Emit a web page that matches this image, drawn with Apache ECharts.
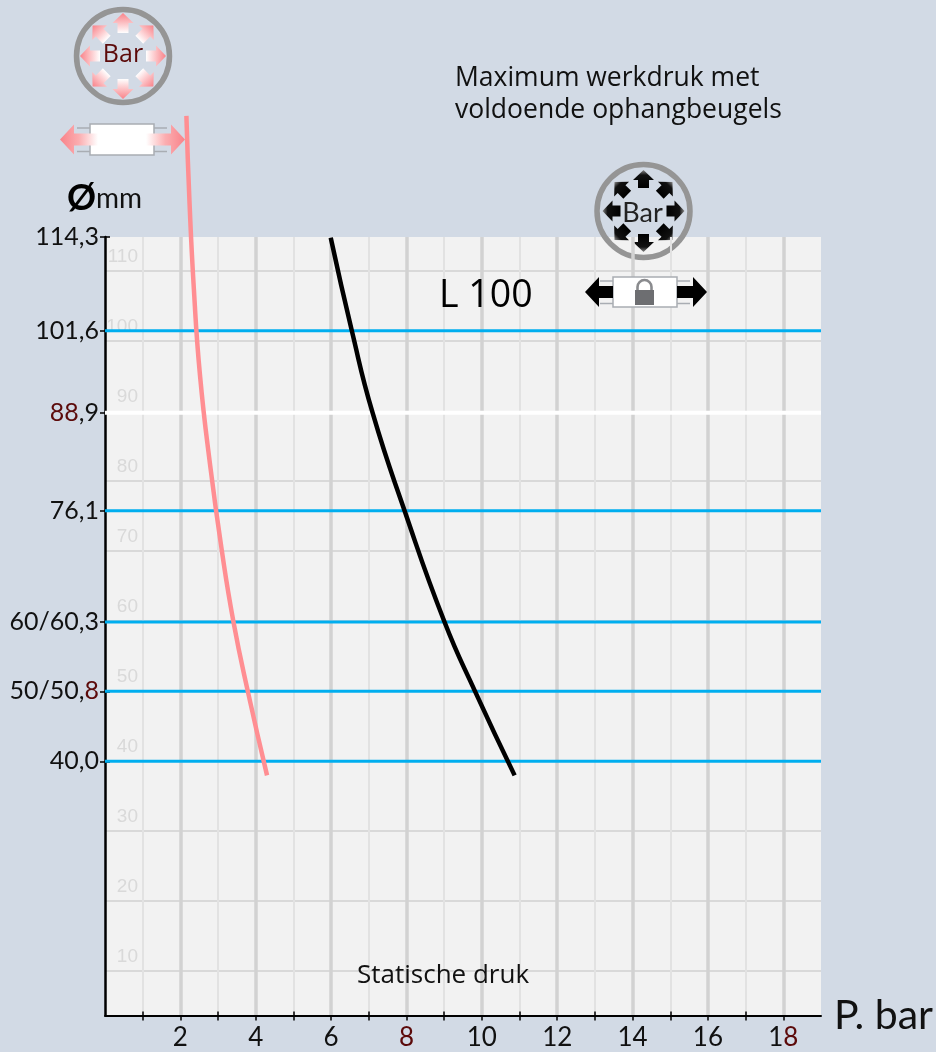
<!DOCTYPE html>
<html>
<head>
<meta charset="utf-8">
<title>Maximum werkdruk L 100</title>
<script src="https://cdn.jsdelivr.net/npm/echarts@6/dist/echarts.min.js"></script>
<style>
  html, body { margin: 0; padding: 0; background: #d2dae5; }
  #chart { width: 936px; height: 1052px; }
</style>
</head>
<body>
<div id="chart"></div>
<script>
// x axis: pressure in bar
const majorPressure = [2, 4, 6, 8, 10, 12, 14, 16, 18]
const minorPressure = [1, 3, 5, 7, 9, 11, 13, 15, 17]

// faint 10..110 scale printed inside the plot
const scaleGrid = [10, 20, 30, 40, 50, 60, 70, 80, 100, 110]
const scaleLabels = [10, 20, 30, 40, 50, 60, 70, 80, 90, 100, 110]

// pipe diameters sit on the faint scale at these readings
const diameterLevels = [114.8, 101.4, 89.7, 75.7, 59.8, 49.9, 39.9]
const diameterNames = ['114,3', '101,6', '{r|88},9', '76,1', '60/60,3', '50/50,{r|8}', '40,0']
const blueLevels = [101.4, 75.7, 59.8, 49.9, 39.9]
const whiteLevels = [89.7]

const pinkPressure = [2.16, 2.24, 2.36, 2.52, 2.79, 3.1, 3.41, 3.79, 4.3]
const pinkScale = [132.1, 120.1, 107.2, 95.1, 82.2, 70, 59.8, 49.9, 37.9]
const blackPressure = [5.99, 6.55, 7.1, 7.95, 9.01, 9.82, 10.87]
const blackScale = [114.7, 101.4, 89.7, 75.7, 59.8, 49.9, 37.9]

const X_MIN = 0
const X_MAX = 19
const Y_MIN = 3.6
const Y_MAX = 114.8
const LABEL_FONT = 'Lato'
const TEXT_FONT = 'Open Sans'
const DARK_RED = '#5c0a0a'

function zipPoints(xs, ys) {
  return xs.map((x, i) => [x, ys[i]])
}

function levelSeries(level, color, width) {
  return {
    type: 'line',
    data: [[X_MIN, level], [X_MAX, level]],
    showSymbol: false,
    silent: true,
    z: 3,
    lineStyle: { color, width }
  }
}

function curveSeries(xs, ys, color) {
  return {
    type: 'line',
    data: zipPoints(xs, ys),
    smooth: 0.5,
    showSymbol: false,
    clip: false,
    silent: true,
    z: 5,
    lineStyle: { color, width: 4.5, cap: 'butt' }
  }
}

function hiddenAxisParts() {
  return { show: false }
}

// one arrow pointing up, tip at -tip, base at -base, around the group origin
function radialArrow(angle, tip, base, head, headWidth, shaftWidth, stops) {
  const h = headWidth / 2
  const s = shaftWidth / 2
  return {
    type: 'polygon',
    rotation: angle,
    shape: {
      points: [[0, -tip], [h, -tip + head], [s, -tip + head], [s, -base], [-s, -base], [-s, -tip + head], [-h, -tip + head]]
    },
    style: {
      fill: { type: 'linear', x: 0, y: 0, x2: 0, y2: 1, colorStops: stops }
    }
  }
}

function gauge(cx, cy, stops, tip, base, label) {
  const children = [{
    type: 'circle',
    shape: { cx: 0, cy: 0, r: 46.5 },
    style: { fill: 'transparent', stroke: '#959595', lineWidth: 5.5 }
  }]
  for (let i = 0; i < 8; i++) {
    children.push(radialArrow(i * Math.PI / 4, tip, base, 10, 21, 11, stops))
  }
  children.push(label)
  return { type: 'group', x: cx, y: cy, z: 20, children }
}

// horizontal pipe piece with an arrow on both ends
function pipe(left, right, top, bottom, leftTip, rightTip, headLength, stopsOut, shaftIn, inner) {
  const mid = (top + bottom) / 2
  const line = (x1, x2, y) => ({
    type: 'line',
    shape: { x1, y1: y, x2, y2: y },
    style: { stroke: '#a9adb3', lineWidth: 1.5 }
  })
  const arrow = (tipX, dir) => {
    const headX = tipX + dir * headLength
    const endX = dir > 0 ? left + shaftIn : right - shaftIn
    return {
      type: 'polygon',
      z: 2,
      shape: {
        points: [[tipX, mid], [headX, mid - 15], [headX, mid - 6], [endX, mid - 6], [endX, mid + 6], [headX, mid + 6], [headX, mid + 15]]
      },
      style: {
        fill: {
          type: 'linear', x: dir > 0 ? 0 : 1, y: 0, x2: dir > 0 ? 1 : 0, y2: 0,
          colorStops: stopsOut
        }
      }
    }
  }
  const offset = 13
  return {
    type: 'group',
    z: 20,
    children: [
      line(left - offset, left, top + 4),
      line(left - offset, left, bottom - 3.5),
      line(right, right + offset, top + 4),
      line(right, right + offset, bottom - 3.5),
      {
        type: 'rect',
        z: 1,
        shape: { x: left, y: top, width: right - left, height: bottom - top },
        style: { fill: '#ffffff', stroke: '#a9adb3', lineWidth: 1.5 }
      },
      arrow(leftTip, 1),
      arrow(rightTip, -1)
    ].concat(inner || [])
  }
}

function textItem(x, y, text, size, font, extra) {
  return {
    type: 'text',
    x,
    y,
    z: 20,
    style: Object.assign({
      text,
      fontSize: size,
      fontFamily: font,
      fill: '#111111',
      verticalAlign: 'middle'
    }, extra || {})
  }
}

const pinkStops = [
  { offset: 0, color: '#f98289' },
  { offset: 1, color: '#ffffff' }
]
const blackStops = [
  { offset: 0, color: '#8a8a8a' },
  { offset: 0.28, color: '#111111' },
  { offset: 1, color: '#000000' }
]
const pinkPipeStops = [
  { offset: 0, color: '#f98289' },
  { offset: 0.5, color: '#fbadb0' },
  { offset: 1, color: '#ffffff' }
]
const blackPipeStops = [
  { offset: 0, color: '#000000' },
  { offset: 1, color: '#000000' }
]

const lock = [
  {
    type: 'arc',
    z: 3,
    shape: { cx: 644.5, cy: 287, r: 7, startAngle: Math.PI, endAngle: 0, clockwise: true },
    style: { fill: 'none', stroke: '#8a8b8e', lineWidth: 2.6 }
  },
  {
    type: 'line',
    z: 3,
    shape: { x1: 637.5, y1: 287, x2: 637.5, y2: 291 },
    style: { stroke: '#8a8b8e', lineWidth: 2.6 }
  },
  {
    type: 'line',
    z: 3,
    shape: { x1: 651.5, y1: 287, x2: 651.5, y2: 291 },
    style: { stroke: '#8a8b8e', lineWidth: 2.6 }
  },
  {
    type: 'rect',
    z: 3,
    shape: { x: 635, y: 290, width: 19, height: 15 },
    style: { fill: '#6d6e71' }
  }
]

const graphicItems = [
  gauge(123, 56, pinkStops, 43, 23,
    textItem(0, -1, 'Bar', 25, TEXT_FONT, { fill: DARK_RED, align: 'center' })),
  gauge(643.5, 211, blackStops, 41, 23,
    textItem(-1, 2, 'Bar', 27, 'Lato', { fill: '#222222', align: 'center' })),
  pipe(90, 154, 124, 155, 60, 185, 14, pinkPipeStops, 8),
  pipe(613, 677, 277, 307, 585, 707, 14, blackPipeStops, 0, lock),
  textItem(67, 198, '{a|Ø}{b|mm}', 30, LABEL_FONT, {
    rich: {
      a: { fontSize: 36, fontFamily: LABEL_FONT, fill: '#000000', fontWeight: 'bold' },
      b: { fontSize: 28, fontFamily: LABEL_FONT, fill: '#111111', padding: [2, 0, 0, 0] }
    }
  }),
  textItem(455, 78, 'Maximum werkdruk met', 26.5, TEXT_FONT),
  textItem(455, 110, 'voldoende ophangbeugels', 26.5, TEXT_FONT),
  textItem(439, 296, 'L 100', 37.5, TEXT_FONT, { fill: '#000000' }),
  textItem(357, 976, 'Statische druk', 26, TEXT_FONT)
]

const chart = echarts.init(document.getElementById('chart'))

chart.setOption({
  animation: false,
  backgroundColor: '#d2dae5',
  grid: {
    left: 105,
    right: 115,
    top: 237,
    bottom: 36.5,
    show: true,
    backgroundColor: '#f2f2f2',
    borderWidth: 0,
    containLabel: false
  },
  xAxis: [
    {
      type: 'value',
      min: X_MIN,
      max: X_MAX,
      position: 'bottom',
      name: 'P. bar',
      nameLocation: 'end',
      nameGap: 13,
      nameTextStyle: { fontFamily: LABEL_FONT, fontSize: 41, color: '#111111', padding: [0, 0, 12, 0] },
      axisLine: { onZero: false, lineStyle: { color: '#000000', width: 2 } },
      axisTick: { customValues: majorPressure, length: 5, lineStyle: { color: '#000000', width: 1.5 } },
      axisLabel: {
        customValues: majorPressure,
        margin: 9,
        fontFamily: LABEL_FONT,
        fontSize: 26,
        color: '#111111',
        formatter: (value) => {
          if (value === 8) return '{r|8}'
          if (value === 18) return '1{r|8}'
          return String(value)
        },
        rich: { r: { color: DARK_RED, fontFamily: LABEL_FONT, fontSize: 26 } }
      },
      splitLine: { show: true, lineStyle: { color: '#d2d2d2', width: 3.5 } }
    },
    {
      type: 'value',
      min: X_MIN,
      max: X_MAX,
      position: 'bottom',
      axisLine: { show: false, onZero: false },
      axisTick: { customValues: minorPressure, length: 5, lineStyle: { color: '#000000', width: 1.5 } },
      axisLabel: hiddenAxisParts(),
      splitLine: { show: true, lineStyle: { color: '#e2e2e2', width: 2 } }
    },
    {
      type: 'value',
      min: X_MIN,
      max: X_MAX,
      position: 'bottom',
      axisLine: { show: false, onZero: false },
      axisTick: { customValues: minorPressure, inside: true, length: 4, lineStyle: { color: '#000000', width: 1.5 } },
      axisLabel: hiddenAxisParts(),
      splitLine: hiddenAxisParts()
    }
  ],
  yAxis: [
    {
      type: 'value',
      min: Y_MIN,
      max: Y_MAX,
      position: 'left',
      axisLine: { show: false, onZero: false },
      axisTick: { show: false, customValues: scaleGrid },
      axisLabel: {
        customValues: scaleLabels,
        inside: true,
        margin: 33,
        align: 'right',
        verticalAlign: 'bottom',
        padding: [0, 0, 4, 0],
        fontFamily: 'Liberation Sans',
        fontSize: 19,
        color: '#d9d9d9'
      },
      splitLine: { show: true, lineStyle: { color: '#d9d9d9', width: 2 } }
    },
    {
      type: 'value',
      min: Y_MIN,
      max: Y_MAX,
      position: 'left',
      axisLine: { show: true, onZero: false, lineStyle: { color: '#000000', width: 2.5 } },
      axisTick: { show: true, customValues: diameterLevels, length: 5, lineStyle: { color: '#000000', width: 1.5 } },
      axisLabel: {
        customValues: diameterLevels,
        margin: 6,
        fontFamily: LABEL_FONT,
        fontSize: 25,
        color: '#111111',
        formatter: (value) => diameterNames[diameterLevels.indexOf(value)],
        rich: { r: { color: DARK_RED, fontFamily: LABEL_FONT, fontSize: 25 } }
      },
      splitLine: { show: false }
    },
    {
      type: 'value',
      min: Y_MIN,
      max: Y_MAX,
      position: 'left',
      axisLine: { show: false, onZero: false },
      axisTick: { show: true, inside: true, customValues: diameterLevels, length: 5, lineStyle: { color: '#000000', width: 1.5 } },
      axisLabel: { show: false },
      splitLine: { show: false }
    }
  ],
  series: [
    ...whiteLevels.map((level) => levelSeries(level, '#ffffff', 4)),
    ...blueLevels.map((level) => levelSeries(level, '#00aeef', 3)),
    curveSeries(pinkPressure, pinkScale, '#ff8e92'),
    curveSeries(blackPressure, blackScale, '#000000')
  ],
  graphic: graphicItems
})

window.addEventListener('resize', () => chart.resize())
</script>
</body>
</html>
